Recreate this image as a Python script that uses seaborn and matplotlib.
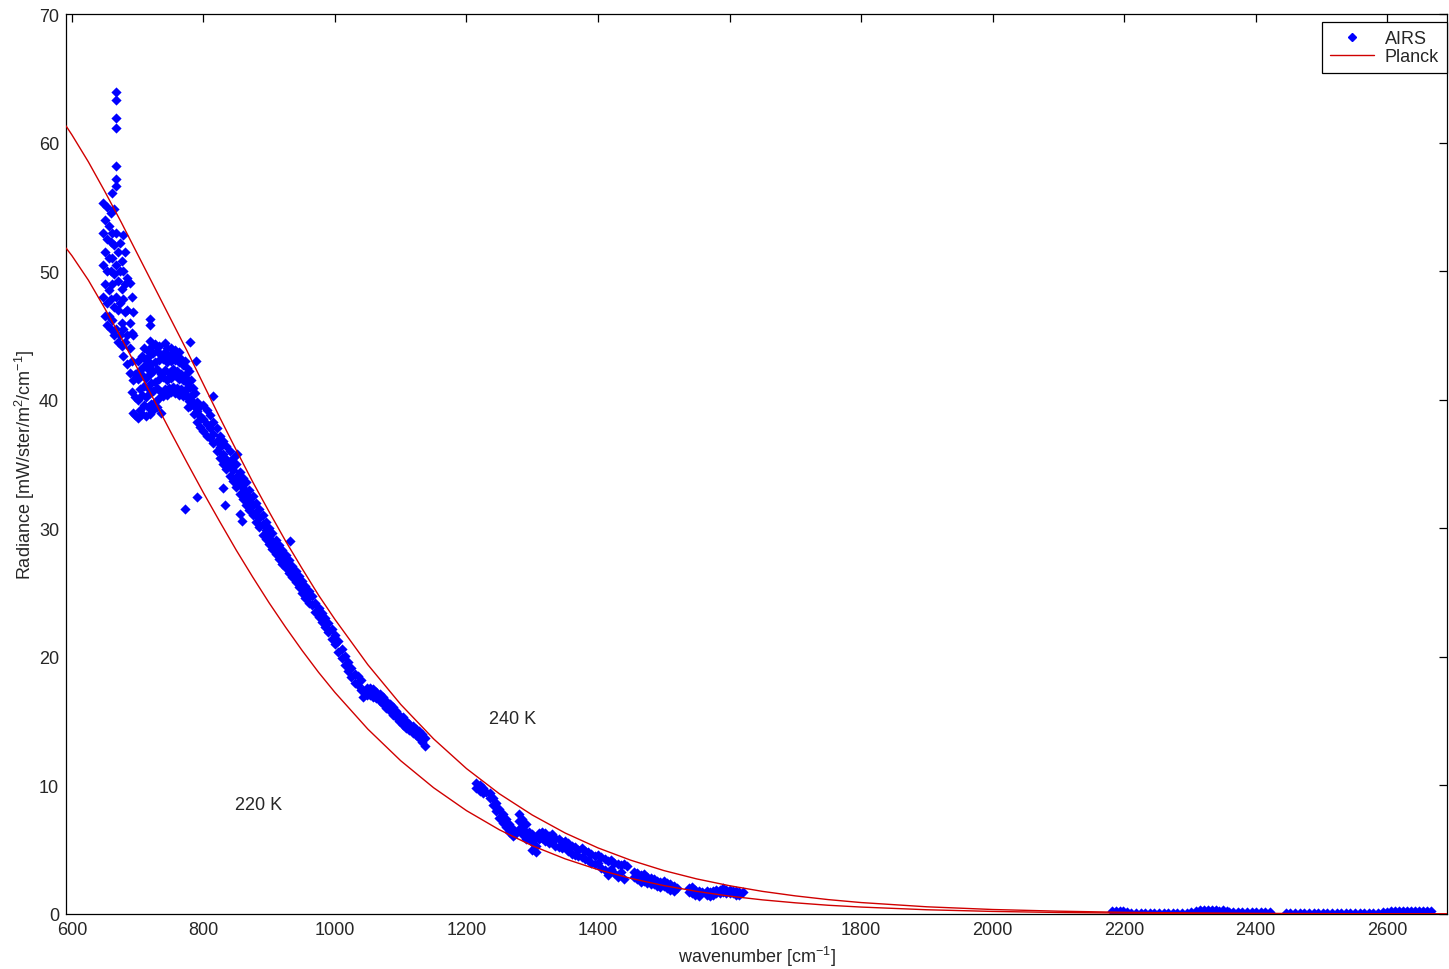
import matplotlib
matplotlib.use("Agg")
import matplotlib.pyplot as plt
from matplotlib.lines import Line2D
import pandas as pd
import seaborn as sns

# ---- AIRS spectrum (wavenumber -> radiances at it) ----
# CO2 band edge incl. the Q-branch spike at 667
co2_wn = [647, 650, 653, 656, 659, 661, 664, 667, 670, 673, 676, 678,
          681, 684, 688, 691, 693, 696]
co2_rad = [[48.0, 50.5, 53.0, 55.3],
           [46.5, 49.0, 51.5, 54.0],
           [45.8, 47.5, 50.0, 52.5, 55.0],
           [46.5, 48.5, 51.0, 53.5],
           [45.5, 47.8, 50.0, 52.3, 54.5],
           [46.2, 49.0, 51.0, 53.0, 56.1],
           [45.0, 47.2, 49.8, 52.0, 54.8],
           [45.5, 48.0, 50.5, 53.0, 56.6, 57.2, 58.2, 61.1, 61.9, 63.3, 63.9],
           [44.5, 47.0, 49.2, 51.5],
           [45.0, 47.5, 50.0, 52.2],
           [44.2, 46.0, 48.6, 50.8],
           [43.4, 45.5, 47.8, 50.0, 52.8],
           [44.5, 46.8, 49.0, 51.5],
           [42.8, 45.0, 47.0, 49.5],
           [42.1, 44.0, 46.0, 49.1],
           [40.6, 43.0, 45.2, 48.0],
           [39.0, 41.5, 45.0, 46.8],
           [38.8, 40.2, 42.0]]

# blob around 700-790
blob_wn = [700, 703, 706, 709, 712, 715, 718, 721, 724, 727, 730, 733, 736,
           739, 742, 745, 748, 751, 754, 757, 760, 763, 766, 769, 772, 775,
           778, 781, 784, 787]
blob_rad = [[38.6, 40.0, 41.6, 43.0], [39.2, 40.8, 42.3],
            [38.9, 40.4, 41.9, 43.4], [39.6, 41.1, 42.6, 44.0],
            [38.7, 40.2, 41.7, 43.1], [39.4, 40.9, 42.4, 43.8],
            [38.9, 40.5, 42.0, 43.5, 44.6], [39.7, 41.3, 42.8, 44.1],
            [39.2, 40.7, 42.2, 43.6], [39.8, 41.4, 42.9, 44.3],
            [39.4, 40.9, 42.4, 43.8], [40.1, 41.6, 43.1, 44.2],
            [39.0, 40.6, 42.0, 43.5], [40.3, 41.8, 43.2],
            [40.8, 42.3, 43.7, 44.4], [40.4, 41.5, 42.9, 44.0],
            [40.9, 42.1, 43.4], [40.6, 41.7, 43.0, 44.0],
            [41.0, 42.4, 43.6], [40.5, 41.9, 43.1, 43.9],
            [40.9, 42.2, 43.4], [40.4, 41.6, 42.9, 43.7],
            [40.8, 42.0, 43.2], [40.3, 41.5, 42.7],
            [40.7, 41.9, 43.0], [40.2, 41.3, 42.5],
            [39.9, 41.0, 42.2], [40.3, 41.5],
            [39.8, 40.9], [39.4, 40.5]]

# window band 775-960
win_wn = [775, 780, 785, 790, 795, 800, 805, 810, 815, 820, 825, 830, 835,
          840, 845, 850, 855, 860, 865, 870, 875, 880, 885, 890, 895, 900,
          905, 910, 915, 920, 925, 930, 935, 940, 945, 950, 955, 960]
win_rad = [[41.6, 40.9, 40.3], [41.0, 40.2, 39.5], [40.5, 39.7, 38.9],
           [39.8, 39.1, 38.3], [39.5, 38.7, 37.9], [39.6, 38.5, 37.6],
           [39.2, 38.1, 37.2], [38.8, 37.8, 37.0], [38.3, 37.3, 36.6],
           [37.8, 36.8, 36.0], [37.2, 36.3, 35.5], [36.8, 35.8, 35.0],
           [36.4, 35.4, 34.6], [36.0, 35.0, 34.1], [35.5, 34.5, 33.7],
           [35.0, 34.0, 33.2], [34.4, 33.6, 32.7], [33.9, 33.1, 32.3],
           [33.6, 32.7, 31.8], [33.0, 32.2, 31.4], [32.5, 31.8, 31.0],
           [32.0, 31.3, 30.5], [31.5, 30.8, 30.1], [31.0, 30.3, 29.5],
           [30.5, 29.9, 29.2], [30.0, 29.4, 28.8], [29.6, 29.0, 28.4],
           [29.1, 28.6, 28.0], [28.7, 28.2, 27.6], [28.3, 27.8, 27.2],
           [27.9, 27.4, 26.9], [27.5, 27.0, 26.5], [27.1, 26.7, 26.2],
           [26.7, 26.3, 25.8], [26.3, 25.9, 25.4], [25.9, 25.5, 25.0],
           [25.5, 25.1, 24.6], [25.1, 24.7, 24.2]]

# ozone / window band 965-1137
oz_wn = [965, 970, 975, 980, 985, 990, 995, 1000, 1005, 1010, 1015, 1020,
         1025, 1030, 1035, 1040, 1043, 1048, 1053, 1058, 1063, 1068, 1073,
         1078, 1083, 1088, 1093, 1098, 1103, 1108, 1113, 1118, 1123, 1128,
         1133, 1137]
oz_rad = [[24.7, 24.0], [24.2, 23.5], [23.8, 23.1], [23.4, 22.7],
          [23.0, 22.3], [22.6, 21.9], [22.2, 21.4], [21.7, 21.0],
          [21.2, 20.4], [20.6, 19.9], [20.1, 19.4], [19.6, 18.9],
          [19.1, 18.4], [18.7, 18.0], [18.5, 17.8], [18.2, 17.4],
          [17.4, 16.9], [17.6, 17.0], [17.6, 17.0], [17.5, 16.9],
          [17.3, 16.8], [17.1, 16.6], [16.9, 16.3], [16.6, 16.0],
          [16.3, 15.8], [16.1, 15.5], [15.8, 15.3], [15.5, 15.0],
          [15.3, 14.7], [15.0, 14.5], [14.8, 14.3], [14.6, 14.1],
          [14.4, 13.9], [14.2, 13.7], [14.0, 13.4], [13.7, 13.1]]

# water vapour band 1215-1620
h2o_wn = [1215, 1220, 1225, 1230, 1235, 1240, 1245, 1250, 1255, 1260, 1265,
          1270, 1274, 1280, 1285, 1290, 1295, 1300, 1305, 1310, 1315, 1320,
          1325, 1330, 1335, 1340, 1345, 1350, 1355, 1360, 1365, 1370, 1375,
          1380, 1385, 1390, 1395, 1400, 1405, 1410, 1415, 1420, 1425, 1430,
          1435, 1440, 1444, 1455, 1460, 1465, 1470, 1475, 1480, 1485, 1490,
          1495, 1500, 1505, 1510, 1515, 1520, 1538, 1543, 1548, 1553, 1558,
          1565, 1570, 1575, 1580, 1585, 1590, 1595, 1600, 1605, 1610, 1615,
          1620]
h2o_rad = [[10.2, 9.8], [10.0, 9.6], [9.8, 9.4], [9.5], [9.4, 9.0],
           [9.0, 8.5], [8.6, 8.0], [8.2, 7.5], [7.8, 7.1], [7.4, 6.8],
           [7.0, 6.4], [6.6, 6.1], [6.2], [7.8, 7.2, 6.6], [7.4, 6.8, 6.2],
           [7.0, 6.4, 5.8], [6.4, 5.9], [6.2, 5.6, 5.0], [6.0, 5.3, 4.8],
           [6.3, 5.8], [6.4, 5.9], [6.3, 5.7], [6.1, 5.5], [6.2, 5.6],
           [5.9, 5.3], [5.8, 5.2], [5.6, 5.1], [5.7, 5.2], [5.5, 4.9],
           [5.3, 4.7], [5.2, 4.6], [5.0, 4.5], [5.1, 4.4], [4.9, 4.3],
           [4.8, 4.2], [4.7, 4.0], [4.5, 3.9], [4.6, 4.0], [4.4, 3.6],
           [4.3, 3.4], [4.1, 3.0], [4.2, 3.5], [4.0, 3.2], [3.9, 2.9],
           [3.8, 3.3], [3.9, 2.7], [3.7], [3.3, 2.9], [3.2, 2.7],
           [3.0, 2.5], [3.1, 2.6], [2.9, 2.4], [2.8, 2.3], [2.7, 2.3],
           [2.6, 2.2], [2.5, 2.1], [2.6, 2.2], [2.4, 2.0], [2.3, 1.9],
           [2.2, 1.8], [2.0], [2.0, 1.7], [2.1, 1.6], [1.9, 1.5],
           [1.8, 1.4], [1.7], [1.8, 1.5], [1.7, 1.4], [1.8, 1.5],
           [1.9, 1.6], [1.9, 1.6], [2.0, 1.7], [1.9, 1.6], [1.9, 1.6],
           [1.8, 1.6], [1.8, 1.5], [1.7, 1.5], [1.7]]

# short-wave band, close to zero
sw_wn = [2181, 2187, 2193, 2199,
         2204, 2211, 2218, 2225, 2232, 2239, 2246, 2253, 2260, 2267, 2274,
         2281, 2288, 2295, 2302,
         2309, 2315, 2321, 2327, 2333, 2339, 2345, 2351, 2357,
         2352, 2359, 2366, 2373, 2380, 2387, 2394, 2401, 2408, 2415, 2422,
         2446, 2453, 2460, 2467, 2474, 2481, 2488, 2495, 2502, 2509, 2516,
         2523, 2530, 2537, 2544, 2551, 2558, 2565, 2572, 2579, 2586, 2593,
         2600,
         2606, 2612, 2618, 2624, 2630, 2636, 2642, 2648, 2654, 2660, 2666]
sw_rad = [0.25, 0.27, 0.26, 0.22,
          0.12, 0.09, 0.08, 0.10, 0.09, 0.08, 0.10, 0.09, 0.08, 0.09, 0.10,
          0.08, 0.09, 0.10, 0.12,
          0.27, 0.29, 0.28, 0.30, 0.28, 0.29, 0.27, 0.28, 0.26,
          0.10, 0.14, 0.15, 0.14, 0.15, 0.14, 0.15, 0.13, 0.14, 0.13, 0.12,
          0.08, 0.10, 0.11, 0.10, 0.11, 0.10, 0.11, 0.10, 0.11, 0.10, 0.11,
          0.10, 0.11, 0.10, 0.11, 0.10, 0.11, 0.10, 0.11, 0.10, 0.11, 0.12,
          0.13,
          0.22, 0.24, 0.25, 0.24, 0.25, 0.24, 0.25, 0.24, 0.23, 0.22, 0.20]

# stray points
stray_wn = [719, 719, 772, 777, 780, 789, 790, 815, 830, 833, 851, 856, 858, 932]
stray_rad = [46.3, 45.8, 31.5, 39.4, 44.5, 43.0, 32.4, 40.3, 33.1, 31.8,
             35.8, 31.1, 30.6, 29.0]

# ---- Planck curves ----
planck_wn = [591, 600, 625, 650, 675, 700, 725, 750, 775, 800, 825, 850,
             875, 900, 925, 950, 975, 1000, 1050, 1100, 1150, 1200, 1250,
             1300, 1350, 1400, 1450, 1500, 1550, 1600, 1650, 1700, 1750,
             1800, 1900, 2000, 2100, 2200, 2300, 2400, 2550, 2691]
planck_240 = [61.3, 60.6, 58.5, 56.2, 53.8, 51.3, 48.8, 46.3, 43.8, 41.2,
              38.6, 36.07, 33.6, 31.27, 29.0, 26.87, 24.8, 22.91, 19.39,
              16.30, 13.62, 11.31, 9.35, 7.70, 6.30, 5.14, 4.18, 3.38,
              2.73, 2.20, 1.76, 1.41, 1.12, 0.89, 0.56, 0.35, 0.22, 0.13,
              0.082, 0.050, 0.023, 0.011]
planck_220 = [51.8, 51.2, 49.3, 47.1, 44.8, 42.4, 39.96, 37.51, 35.11,
              32.76, 30.5, 28.29, 26.2, 24.19, 22.3, 20.50, 18.8, 17.23,
              14.38, 11.92, 9.82, 8.04, 6.55, 5.31, 4.29, 3.45, 2.77, 2.21,
              1.76, 1.39, 1.10, 0.87, 0.68, 0.54, 0.33, 0.20, 0.12, 0.072,
              0.043, 0.025, 0.011, 0.005]


def expand(wns, groups):
    return [(w, r) for w, g in zip(wns, groups) for r in g]


rows = (expand(co2_wn, co2_rad) + expand(blob_wn, blob_rad)
        + expand(win_wn, win_rad) + expand(oz_wn, oz_rad)
        + expand(h2o_wn, h2o_rad) + list(zip(sw_wn, sw_rad))
        + list(zip(stray_wn, stray_rad)))
airs = pd.DataFrame(rows, columns=["wn", "rad"])

sns.set_style("white")
plt.rcParams["font.family"] = ["Liberation Sans", "DejaVu Sans"]
plt.rcParams["mathtext.default"] = "regular"

blue = "#0000ff"
red = "#d00000"
txt = "#262626"

fig = plt.figure(figsize=(14.49, 9.70), dpi=100)
ax = fig.add_axes([66 / 1449, 1 - 915 / 970, 1381 / 1449, 900 / 970])

sns.scatterplot(data=airs, x="wn", y="rad", marker="D", s=27, color=blue,
                linewidth=0, ax=ax, legend=False, zorder=2)
sns.lineplot(x=planck_wn, y=planck_240, color=red, lw=1.0, ax=ax,
             legend=False, zorder=3)
sns.lineplot(x=planck_wn, y=planck_220, color=red, lw=1.0, ax=ax,
             legend=False, zorder=3)

ax.text(1234, 15.2, "240 K", fontsize=13, color=txt, va="center")
ax.text(848, 8.55, "220 K", fontsize=13, color=txt, va="center")

ax.set_xlim(591, 2691)
ax.set_ylim(0, 70)
ax.set_xticks(range(600, 2601, 200))
ax.set_yticks(range(0, 71, 10))
ax.tick_params(direction="in", top=True, right=True, length=6, width=0.9,
               labelsize=13, colors="black", labelcolor=txt, pad=5)
for sp in ax.spines.values():
    sp.set_color("black")
    sp.set_linewidth(0.9)

ax.set_xlabel(r"wavenumber [cm$^{-1}$]", fontsize=13, color=txt, labelpad=4)
ax.set_ylabel(r"Radiance [mW/ster/m$^2$/cm$^{-1}$]", fontsize=13, color=txt,
              labelpad=1)

handles = [Line2D([], [], marker="D", color=blue, ls="none", markersize=4),
           Line2D([], [], color=red, lw=1.0)]
leg = ax.legend(handles, ["AIRS", "Planck"], loc="upper right",
                bbox_to_anchor=(1.0, 1 - 8 / 900), borderaxespad=0,
                fontsize=13, frameon=True, fancybox=False, framealpha=1,
                edgecolor="black", borderpad=0.45, handlelength=2.4,
                handletextpad=0.6, labelspacing=0.05)
leg.get_frame().set_linewidth(0.9)
for t in leg.get_texts():
    t.set_color(txt)

fig.savefig("out.png", dpi=100)
